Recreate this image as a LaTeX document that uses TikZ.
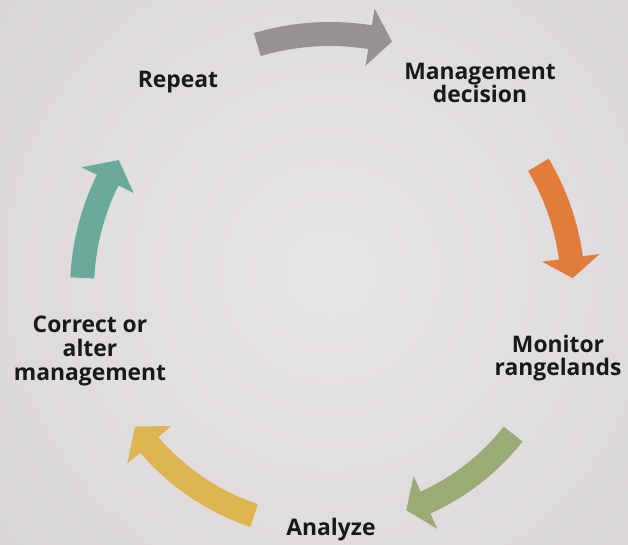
\documentclass[tikz,border=0pt]{standalone}
\usepackage{fontspec}
\setmainfont{Open Sans}
\definecolor{bginner}{RGB}{232,229,230}
\definecolor{bgouter}{RGB}{206,202,204}
\definecolor{arrowgray}{RGB}{152,145,145}
\definecolor{arroworange}{RGB}{226,124,58}
\definecolor{arrowgreen}{RGB}{155,171,117}
\definecolor{arrowyellow}{RGB}{221,182,82}
\definecolor{arrowteal}{RGB}{105,170,152}

\begin{document}
\begin{tikzpicture}[
    x=0.02cm, y=0.02cm,
    every node/.style={font=\fontsize{13}{13.4}\selectfont\bfseries},
    steplabel/.style={align=center, text=black!90, inner sep=0pt},
]
    % light grey backdrop, a little darker towards the corners
    \begin{scope}
        \clip (0,0) rectangle (628,544);
        \shade[inner color=bginner, outer color=bgouter] (330,272) circle (830);
    \end{scope}
    \useasboundingbox (0,0) rectangle (628,544);

    % a thick arrow bent round the centre of the cycle:
    % start angle, angle where the head begins, tip angle, radius, colour
    \newcommand{\cyclearrow}[5]{%
        \fill[#5, shift={(330,254)}]
            (#1:{#4-12}) arc[start angle=#1, end angle=#2, radius={#4-12}]
            -- (#2:{#4-29}) -- (#3:#4) -- (#2:{#4+29}) -- (#2:{#4+12})
            arc[start angle=#2, end angle=#1, radius={#4+12}] -- cycle;
    }

    \cyclearrow{106.5}{81}{76}{256}{arrowgray}
    \cyclearrow{31}{7.6}{2.8}{243}{arroworange}
    \cyclearrow{-38.2}{-65.8}{-70.9}{233}{arrowgreen}
    \cyclearrow{-108.6}{-139.4}{-145}{238}{arrowyellow}
    \cyclearrow{-182.8}{-206.3}{-211.6}{248}{arrowteal}

    \node[steplabel, anchor=base] (repeat) at (178,456) {Repeat};
    \node[steplabel] (decision) at (480,461) {Management\\decision};
    \node[steplabel] (monitor) at (558,186) {Monitor\\rangelands};
    \node[steplabel, anchor=base] (analyze) at (331,9) {Analyze};
    \node[steplabel] (correct) at (90,193) {Correct or\\alter\\management};
\end{tikzpicture}
\end{document}
